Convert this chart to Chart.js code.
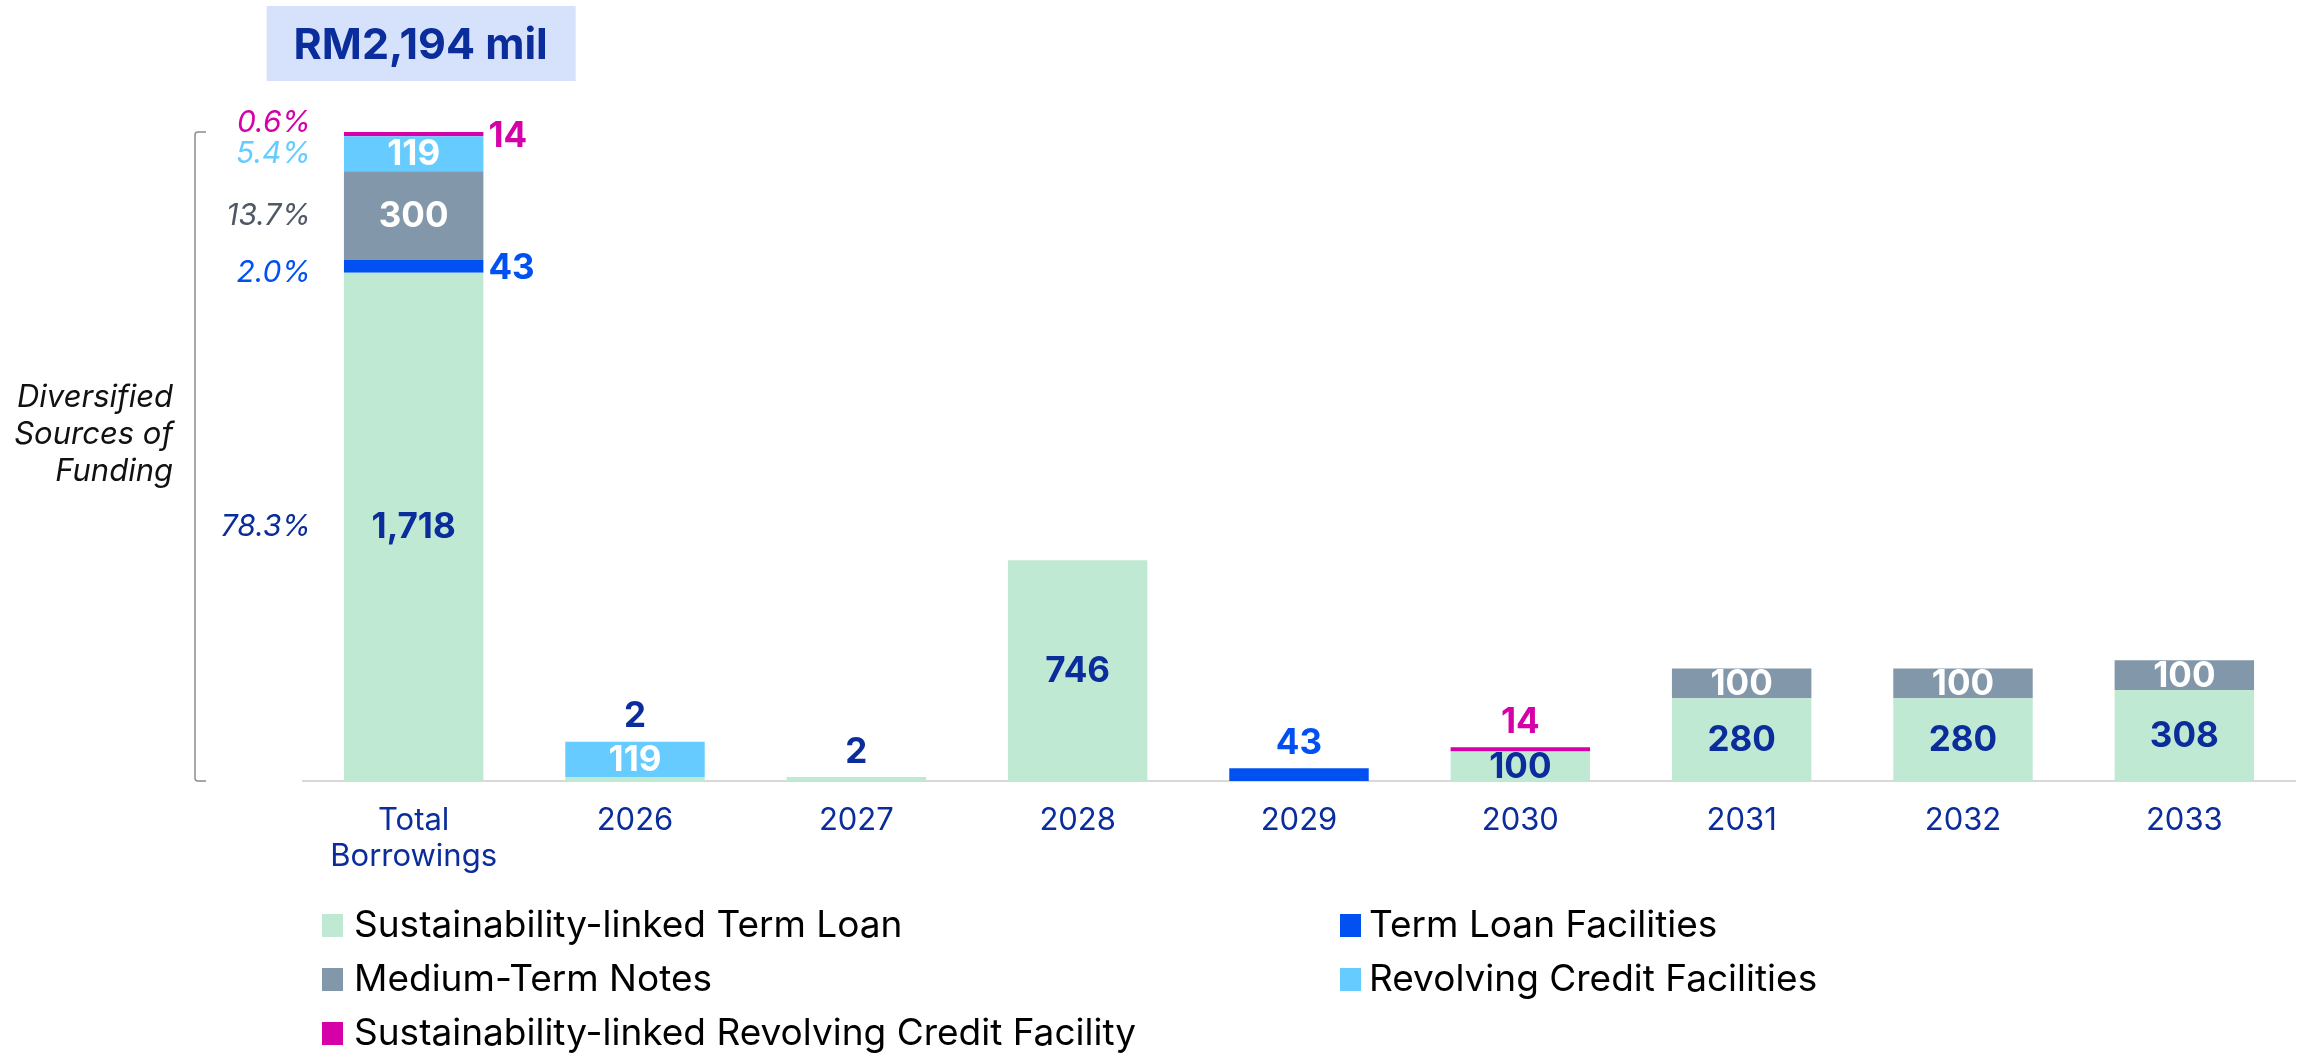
<!DOCTYPE html>
<html>
<head>
<meta charset="utf-8">
<script src="https://cdn.jsdelivr.net/npm/chart.js@4.4.1/dist/chart.umd.min.js"></script>
<style>
  html, body { margin: 0; padding: 0; background: #fff; }
  #wrap { width: 2303px; height: 1053px; }
</style>
</head>
<body>
<div id="wrap"><canvas id="chart" width="2303" height="1053"></canvas></div>
<script>
// categories and series (RM mil)
const categories = [['Total', 'Borrowings'], '2026', '2027', '2028', '2029', '2030', '2031', '2032', '2033'];
const slTermLoan = [1718, 2, 2, 746, null, 100, 280, 280, 308];
const termLoan   = [43, null, null, null, 43, null, null, null, null];
const mtNotes    = [300, null, null, null, null, null, 100, 100, 100];
const revolving  = [119, 119, null, null, null, null, null, null, null];
const slRevolving = [14, null, null, null, null, 14, null, null, null];
const seriesNames = ['Sustainability-linked Term Loan', 'Term Loan Facilities', 'Medium-Term Notes',
  'Revolving Credit Facilities', 'Sustainability-linked Revolving Credit Facility'];
const shares = ['78.3%', '2.0%', '13.7%', '5.4%', '0.6%'];
const totalText = 'RM2,194 mil';
const bracketText = ['Diversified', 'Sources of', 'Funding'];

const colors = ['#c0e9d4', '#0050f2', '#8397aa', '#66ccff', '#d600a9'];
const DARK = '#0a2d9b';
const insideColor = [DARK, '#ffffff', '#ffffff', '#ffffff', '#ffffff'];
const outsideColor = [DARK, '#0050f2', '#8397aa', '#66ccff', '#d600a9'];
const shareColor = [DARK, '#0050f2', '#4f5965', '#66ccff', '#d600a9'];

Chart.defaults.font.family = 'Inter';

function fmt(v) { return v.toLocaleString('en-US'); }

const labelPlugin = {
  id: 'labels',
  afterDatasetsDraw(chart) {
    const ctx = chart.ctx;
    const area = chart.chartArea;
    const n = categories.length;
    // stack tops
    const tops = [];
    for (let j = 0; j < n; j++) {
      let t = Infinity;
      chart.data.datasets.forEach((ds, i) => {
        if (ds.data[j] != null) t = Math.min(t, chart.getDatasetMeta(i).data[j].y);
      });
      tops.push(t);
    }
    ctx.save();
    ctx.textAlign = 'center';
    ctx.textBaseline = 'middle';
    chart.data.datasets.forEach((ds, i) => {
      const meta = chart.getDatasetMeta(i);
      ds.data.forEach((v, j) => {
        if (v == null) return;
        const bar = meta.data[j];
        const h = bar.base - bar.y;
        const cy = (bar.y + bar.base) / 2;
        ctx.font = 'bold 35px Inter';
        if (h >= 25) {
          ctx.fillStyle = insideColor[i];
          ctx.textAlign = 'center';
          ctx.fillText(fmt(v), bar.x, cy + 1);
        } else if (j === 0) {
          ctx.fillStyle = outsideColor[i];
          ctx.textAlign = 'left';
          ctx.fillText(fmt(v), bar.x + bar.width / 2 + 5, cy + 2);
        } else {
          ctx.fillStyle = outsideColor[i];
          ctx.textAlign = 'center';
          ctx.fillText(fmt(v), bar.x, tops[j] - 25);
        }
        // share of total next to the first bar
        if (j === 0) {
          const nudge = i === 4 ? -11 : (i === 1 ? 7 : 0);
          ctx.font = 'italic 30px Inter';
          ctx.fillStyle = shareColor[i];
          ctx.textAlign = 'right';
          ctx.fillText(shares[i], bar.x - bar.width / 2 - 33, cy + nudge);
        }
      });
    });

    // bracket
    const b0 = chart.getDatasetMeta(0).data[0];
    const bx = area.left - 108;
    ctx.strokeStyle = '#8c8c8c';
    ctx.lineWidth = 1.5;
    ctx.beginPath();
    ctx.moveTo(bx + 11, tops[0]);
    ctx.lineTo(bx + 3, tops[0]);
    ctx.quadraticCurveTo(bx, tops[0], bx, tops[0] + 3);
    ctx.lineTo(bx, b0.base - 3);
    ctx.quadraticCurveTo(bx, b0.base, bx + 3, b0.base);
    ctx.lineTo(bx + 11, b0.base);
    ctx.stroke();

    ctx.font = 'italic 31px Inter';
    ctx.fillStyle = '#111111';
    ctx.textAlign = 'right';
    bracketText.forEach((t, k) => ctx.fillText(t, bx - 22, area.top + 266 + k * 37));

    // total box
    const cx = b0.x + 7;
    ctx.fillStyle = '#d6e2fc';
    ctx.fillRect(cx - 154, 6, 309, 75);
    ctx.font = 'bold 43px Inter';
    ctx.fillStyle = DARK;
    ctx.textAlign = 'center';
    ctx.fillText(totalText, cx, 46);

    // legend, two columns
    const colX = [322, 1340];
    const rowY = [925, 979, 1033];
    ctx.font = '37px Inter';
    ctx.textAlign = 'left';
    seriesNames.forEach((name, i) => {
      const x = colX[i % 2];
      const y = rowY[Math.floor(i / 2)];
      ctx.fillStyle = colors[i];
      ctx.fillRect(x, y - 11, 21, 23);
      ctx.fillStyle = '#000000';
      ctx.fillText(name, x + (i % 2 ? 29 : 32), y + 1);
    });
    ctx.restore();
  }
};

const datasets = [slTermLoan, termLoan, mtNotes, revolving, slRevolving].map((d, i) => ({
  label: seriesNames[i],
  data: d,
  backgroundColor: colors[i],
  borderWidth: 0,
  minBarLength: i === 0 ? 4 : 0,
  categoryPercentage: 1,
  barPercentage: 0.63
}));

new Chart(document.getElementById('chart'), {
  type: 'bar',
  data: { labels: categories, datasets: datasets },
  options: {
    responsive: false,
    animation: false,
    layout: { padding: { top: 132, left: 303, right: 8, bottom: 0 } },
    plugins: { legend: { display: false }, tooltip: { enabled: false } },
    scales: {
      x: {
        stacked: true,
        grid: { display: false, drawTicks: false },
        border: { display: true, color: '#d9d9d9', width: 2 },
        ticks: { color: DARK, font: { size: 31, lineHeight: 1.15 }, padding: 22, maxRotation: 0 },
        afterFit: (scale) => { scale.height = 272; }
      },
      y: {
        stacked: true,
        display: false,
        min: 0,
        max: 2194
      }
    }
  },
  plugins: [labelPlugin]
});
</script>
</body>
</html>
